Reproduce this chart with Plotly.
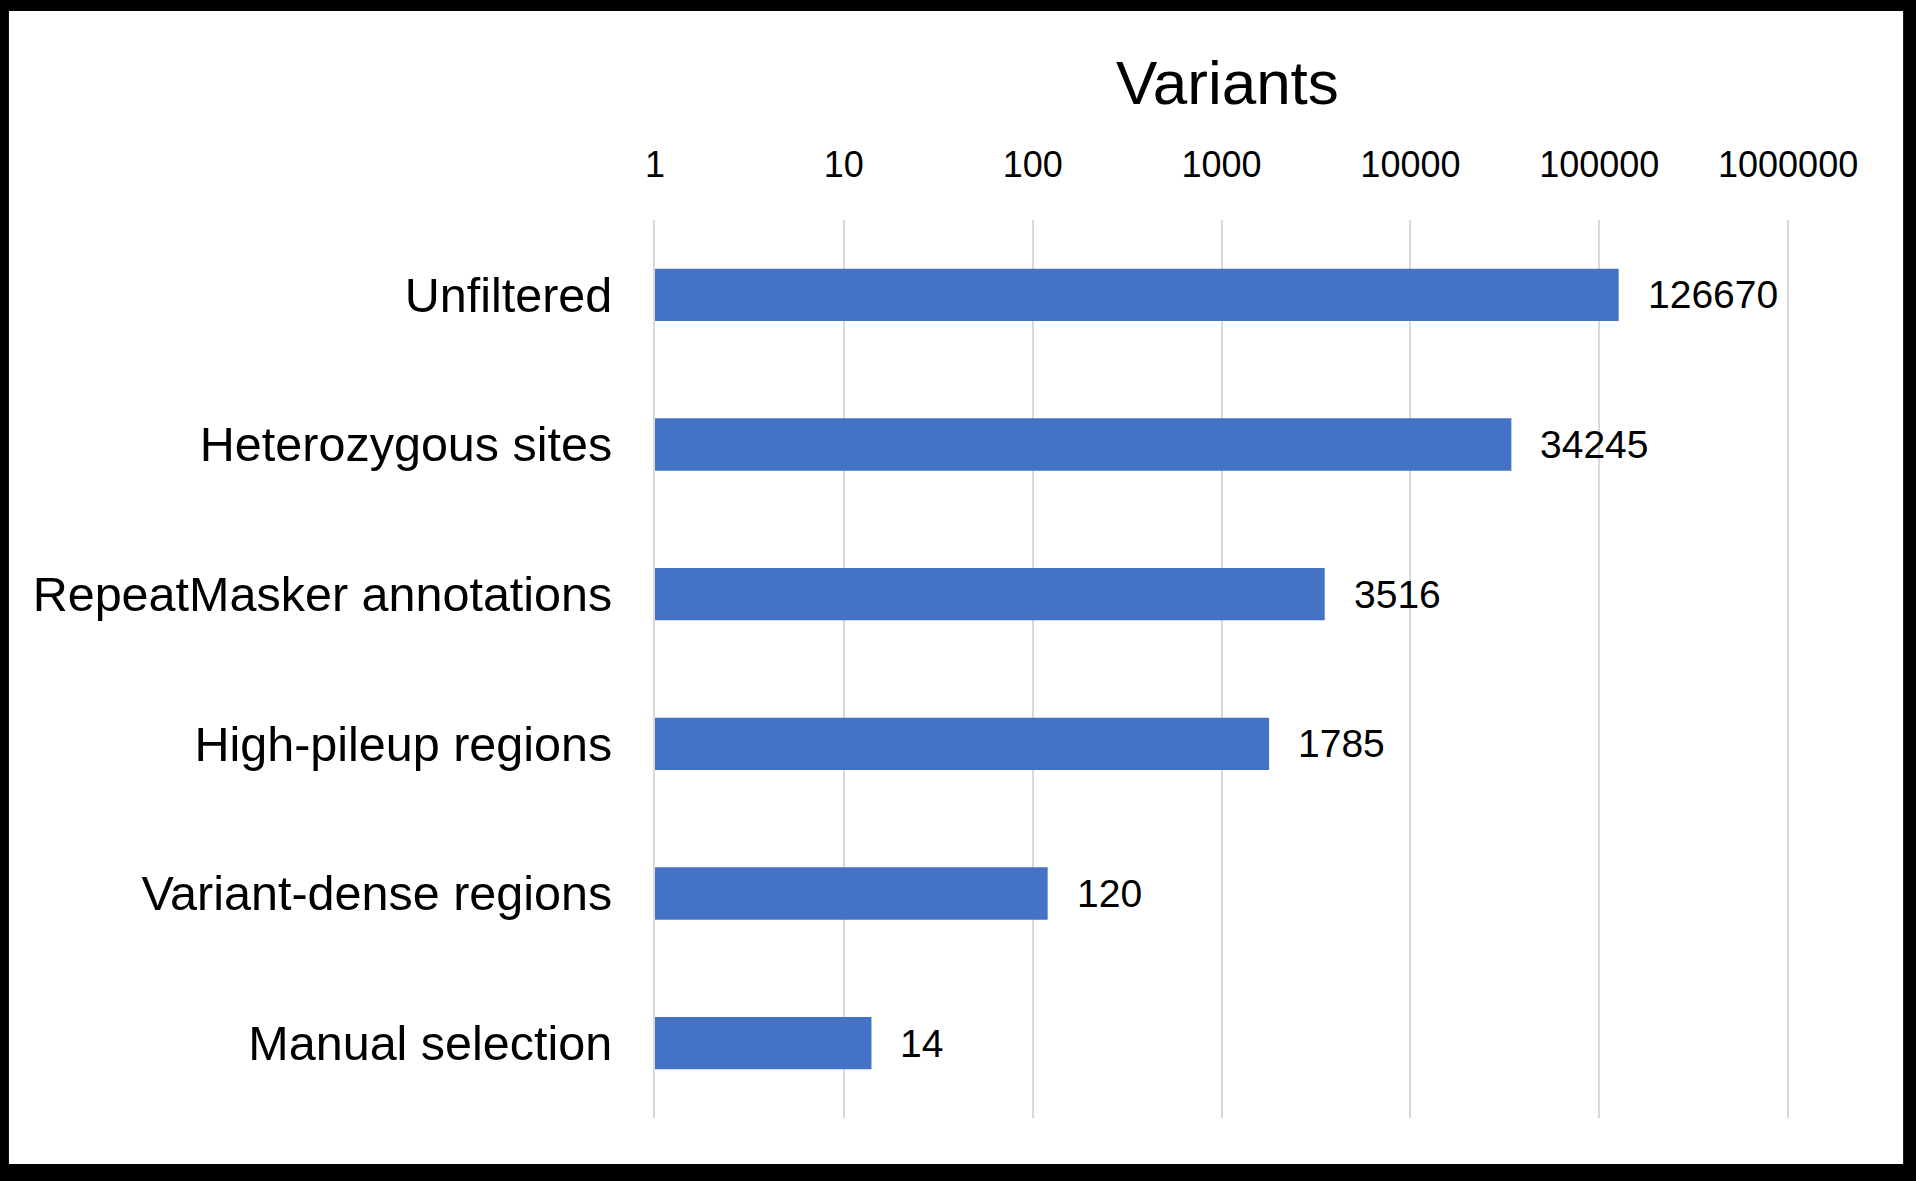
import math
import plotly.graph_objects as go

categories = ["Unfiltered", "Heterozygous sites", "RepeatMasker annotations",
              "High-pileup regions", "Variant-dense regions", "Manual selection"]
values = [126670, 34245, 3516, 1785, 120, 14]
tick_values = [1, 10, 100, 1000, 10000, 100000, 1000000]
tick_labels = ["1", "10", "100", "1000", "10000", "100000", "1000000"]
title_text = "Variants"

W, H = 1916, 1181
X0_PX, X6_PX = 655, 1788          # pixel position of 1 and 1e6
DEC = (X6_PX - X0_PX) / 6.0
EXTRA = 0.01                       # tiny range extension so the 1e6 gridline is drawn
L, R, T, B = X0_PX, X6_PX + EXTRA * DEC, 220, 1118
PW, PH = R - L, B - T


def px_x(p):
    return (p - L) / PW


def px_y(p):
    return (B - p) / PH


FONT = "Liberation Sans, Arial, Helvetica, sans-serif"
BLUE = "#4472C4"
GRID = "#d9d9d9"

fig = go.Figure()
fig.add_trace(go.Bar(
    x=values, y=categories, orientation="h",
    marker=dict(color=BLUE, line=dict(width=0)),
    hoverinfo="x+y",
))

annotations = []
for c, v in zip(categories, values):
    annotations.append(dict(
        x=math.log10(v), y=c, xref="x", yref="y", text=str(v),
        showarrow=False, xanchor="left", yanchor="middle", xshift=27,
        font=dict(family=FONT, size=39, color="black"),
    ))
annotations.append(dict(
    x=px_x(1227.5), y=px_y(82), xref="paper", yref="paper", text=title_text,
    showarrow=False, xanchor="center", yanchor="middle",
    font=dict(family=FONT, size=62, color="black"),
))

fig.update_layout(
    width=W, height=H,
    margin=dict(l=L, r=W - R, t=T, b=H - B, pad=0),
    paper_bgcolor="black", plot_bgcolor="white",
    showlegend=False,
    bargap=0.65,
    font=dict(family=FONT, color="black"),
    annotations=annotations,
    shapes=[dict(
        type="rect", xref="paper", yref="paper", layer="below",
        x0=px_x(9), x1=px_x(1903), y0=px_y(1164), y1=px_y(11),
        fillcolor="white", line=dict(width=0),
    )],
    xaxis=dict(
        type="log", range=[0, 6 + EXTRA], side="top",
        tickvals=tick_values, ticktext=tick_labels,
        tickfont=dict(family=FONT, size=36, color="black"),
        showgrid=True, gridcolor=GRID, gridwidth=2,
        zeroline=False, showline=False, ticks="",
        ticklabelstandoff=35,
    ),
    yaxis=dict(
        type="category", categoryorder="array", categoryarray=categories[::-1],
        tickfont=dict(family=FONT, size=48.5, color="black"),
        showgrid=False, zeroline=False,
        showline=True, linecolor=GRID, linewidth=2,
        ticks="", ticklabelstandoff=31,
    ),
)

fig.write_html(
    "out.html",
    config={"displayModeBar": False},
    post_script="document.body.style.margin='0';document.body.style.padding='0';"
                "document.documentElement.style.background='black';",
)
